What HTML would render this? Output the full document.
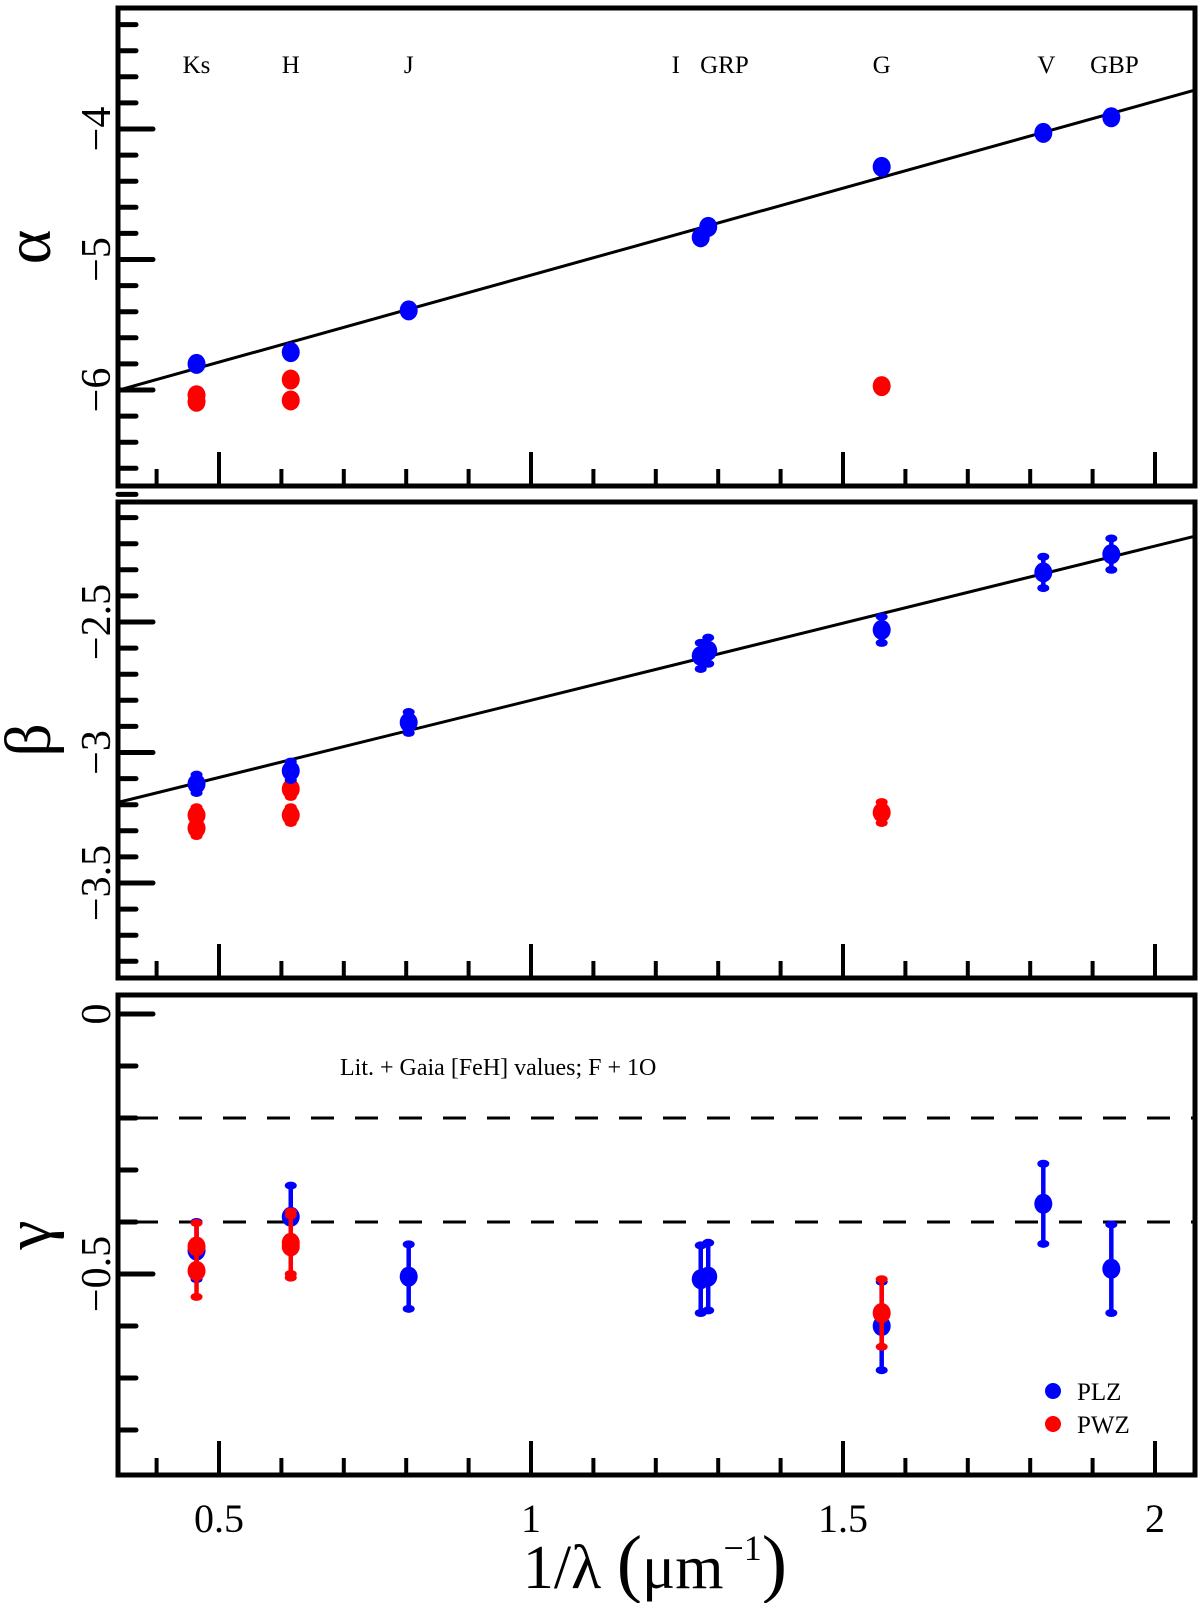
<!DOCTYPE html>
<html><head><meta charset="utf-8">
<style>
html,body{margin:0;padding:0;background:#fff;}
svg{display:block;font-family:"Liberation Serif","DejaVu Serif",serif;}
</style></head>
<body>
<svg id="fig" width="1200" height="1603" viewBox="0 0 1200 1603" xmlns="http://www.w3.org/2000/svg"></svg>
<script>
// ---- data ----
const bandNames = ["Ks","H","J","I","GRP","G","V","GBP"];
const bandX = [0.464,0.615,0.804,1.272,1.284,1.562,1.821,1.930];
const alphaPLZ = [-5.80,-5.71,-5.39,-4.83,-4.75,-4.29,-4.03,-3.91];
const betaPLZ = [-3.12,-3.07,-2.885,-2.63,-2.61,-2.53,-2.31,-2.24];
const betaPLZerr = [0.035,0.035,0.04,0.05,0.05,0.05,0.06,0.06];
const gammaPLZ = [-0.455,-0.39,-0.505,-0.51,-0.505,-0.60,-0.365,-0.49];
const gammaPLZerr = [0.055,0.06,0.062,0.065,0.065,0.085,0.077,0.085];
const pwzX = [0.464,0.464,0.615,0.615,1.562];
const alphaPWZ = [-6.04,-6.09,-5.92,-6.08,-5.97];
const betaPWZ = [-3.24,-3.29,-3.14,-3.24,-3.23];
const betaPWZerr = [0.03,0.03,0.03,0.03,0.04];
const gammaPWZ = [-0.447,-0.494,-0.44,-0.447,-0.575];
const gammaPWZerr = [0.045,0.05,0.06,0.06,0.065];
const alphaFit = [-6.453,1.333]; // intercept, slope
const betaFit = [-3.391,0.591];
const gammaRefLines = [-0.2,-0.4];
const xTickLabels = ["0.5","1","1.5","2"];
const xMajor = [0.5,1,1.5,2];
const bandLabelX = [0.464,0.615,0.804,1.232,1.31,1.562,1.826,1.935];
const bandLabels = ["Ks","H","J","I","GRP","G","V","GBP"];

// ---- geometry ----
const L=118,R=1195;
const X=v=>531+(v-1)*624;
const panels=[
 {name:"alpha",top:8,bot:486,y:v=>129+(-4-v)*130.5,ticks:{from:-3.2,to:-6.8,step:0.2,major:[-4,-5,-6]},labels:["−4","−5","−6"],labVals:[-4,-5,-6],greek:"α"},
 {name:"beta",top:502,bot:978,y:v=>622+(-2.5-v)*261,ticks:{from:-2.1,to:-3.8,step:0.1,major:[-2.5,-3,-3.5]},labels:["−2.5","−3","−3.5"],labVals:[-2.5,-3,-3.5],greek:"β"},
 {name:"gamma",top:995,bot:1475,y:v=>1014+(0-v)*520,ticks:{from:0,to:-0.8,step:0.1,major:[0,-0.5]},labels:["0","−0.5"],labVals:[0,-0.5],greek:"γ"}
];
const svg=document.getElementById('fig');
const NS="http://www.w3.org/2000/svg";
function mk(tag,attrs,parent){const e=document.createElementNS(NS,tag);for(const k in attrs)e.setAttribute(k,attrs[k]);(parent||svg).appendChild(e);return e;}

panels.forEach(p=>{
  const g=mk('g',{});
  
  
  const n=Math.round((p.ticks.from-p.ticks.to)/p.ticks.step);
  for(let i=0;i<=n;i++){
    const v=+(p.ticks.from-i*p.ticks.step).toFixed(3);
    const isMaj=p.ticks.major.some(m=>Math.abs(m-v)<1e-6);
    const t=mk('line',{x1:L,x2:L+(isMaj?35:18),y1:p.y(v),y2:p.y(v),stroke:'#000','stroke-width':5,'stroke-linecap':'round'},g);
    
    
  }
  for(let i=4;i<=20;i++){
    const v=i/10;const isMaj=(i%5===0);
    const t=mk('line',{x1:X(v),x2:X(v),y1:p.bot,y2:p.bot-(isMaj?34:17),stroke:'#000','stroke-width':4},g);
    
    
  }
  p.labVals.forEach((v,i)=>{
    const yy=p.y(v);
    const t=mk('text',{x:0,y:0,transform:`translate(110,${yy}) rotate(-90)`,'text-anchor':'middle','font-size':42},g);
    t.textContent=p.labels[i];
    
    
  });
  const gl=mk('text',{x:0,y:0,transform:`translate(50,${(p.top+p.bot)/2}) rotate(-90)`,'text-anchor':'middle','font-size':66},g);
  gl.textContent=p.greek;
  
  
  p.g=g;
});

function fitLine(p,fit,name){
  const x0=(L-531)/624+1,x1=(R-531)/624+1;
  const l=mk('line',{x1:L,y1:p.y(fit[0]+fit[1]*x0),x2:R,y2:p.y(fit[0]+fit[1]*x1),stroke:'#000','stroke-width':3},p.g);
  
  
}
function point(p,xv,yv,err,color,name){
  const cx=X(xv),cy=p.y(yv);
  if(err){
    const e=mk('line',{x1:cx,x2:cx,y1:p.y(yv+err),y2:p.y(yv-err),stroke:color,'stroke-width':4.5},p.g);
    
    
    [yv+err,yv-err].forEach(c=>{
      const cap=mk('ellipse',{cx:cx,cy:p.y(c),rx:6,ry:4,fill:color},p.g);
      
      
    });
  }
  const d=mk('ellipse',{cx:cx,cy:cy,rx:9,ry:10,fill:color},p.g);
  
  
}
const [pa,pb,pc]=panels;
fitLine(pa,alphaFit,'alpha-fit-line');
fitLine(pb,betaFit,'beta-fit-line');
gammaRefLines.forEach(v=>{
  const l=mk('line',{x1:135,x2:R,y1:pc.y(v),y2:pc.y(v),stroke:'#000','stroke-width':3,'stroke-dasharray':'23 21'},pc.g);
  
  
});
pwzX.forEach((x,i)=>{
  point(pa,x,alphaPWZ[i],0,'#ff0000','alpha-pwz-point');
  point(pb,x,betaPWZ[i],betaPWZerr[i],'#ff0000','beta-pwz-point');
});
bandX.forEach((x,i)=>{
  point(pa,x,alphaPLZ[i],0,'#0000ff','alpha-plz-point-'+bandNames[i].toLowerCase());
  point(pb,x,betaPLZ[i],betaPLZerr[i],'#0000ff','beta-plz-point-'+bandNames[i].toLowerCase());
  point(pc,x,gammaPLZ[i],gammaPLZerr[i],'#0000ff','gamma-plz-point-'+bandNames[i].toLowerCase());
});
pwzX.forEach((x,i)=>{
  point(pc,x,gammaPWZ[i],gammaPWZerr[i],'#ff0000','gamma-pwz-point');
});
bandLabels.forEach((b,i)=>{
  const t=mk('text',{x:X(bandLabelX[i]),y:73,'text-anchor':'middle','font-size':25},pa.g);
  t.textContent=b;
  
  
});
panels.forEach(p=>{
  const r=mk('rect',{x:L,y:p.top,width:R-L,height:p.bot-p.top,fill:'none',stroke:'#000','stroke-width':5},p.g);
  
  
});
xMajor.forEach((v,i)=>{
  const t=mk('text',{x:X(v),y:1532,'text-anchor':'middle','font-size':40},svg);
  t.textContent=xTickLabels[i];
  
  
});
</script>
<svg style="position:absolute;left:0;top:0" width="1200" height="1603">
  <text x="655" y="1588" text-anchor="middle" font-family="Liberation Serif, serif" font-size="62">1/λ <tspan font-size="76">(</tspan>μm<tspan font-size="36" dy="-28">−1</tspan><tspan font-size="76" dy="28">)</tspan></text>
  <text x="340" y="1075" font-family="Liberation Serif, serif" font-size="24">Lit. + Gaia [FeH] values; F + 1O</text>
  <circle cx="1053" cy="1391" r="8" fill="#0000ff"/>
  <text x="1077" y="1400" font-family="Liberation Serif, serif" font-size="25">PLZ</text>
  <circle cx="1053" cy="1424" r="8" fill="#ff0000"/>
  <text x="1077" y="1433" font-family="Liberation Serif, serif" font-size="25">PWZ</text>
</svg>
</body></html>
